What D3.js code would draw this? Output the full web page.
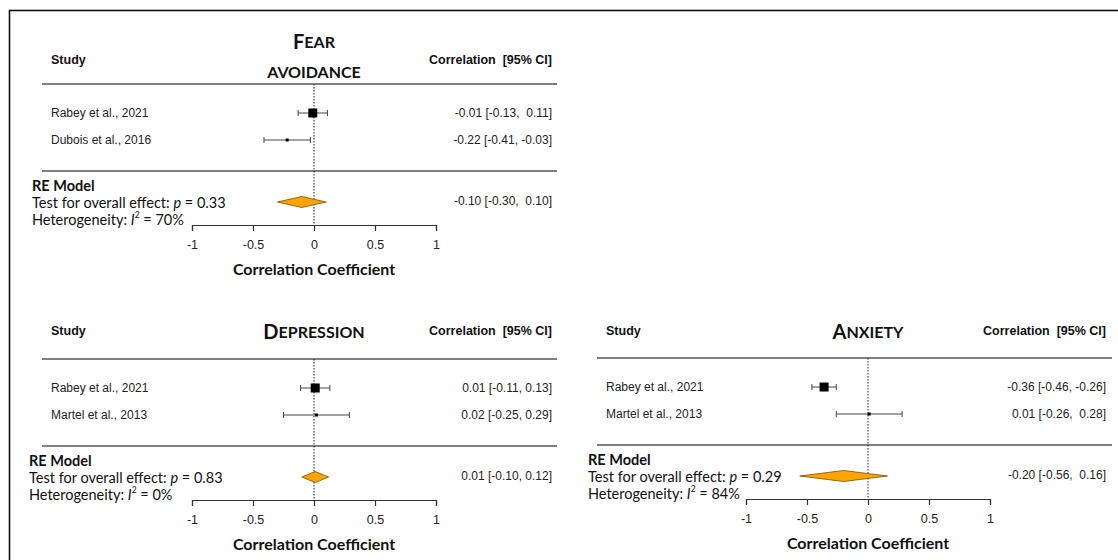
<!DOCTYPE html>
<html><head><meta charset="utf-8">
<script src="https://cdn.jsdelivr.net/npm/d3@7"></script>
<style>
body{margin:0;background:#fff}
text{white-space:pre}
</style></head><body>
<svg id="c" width="1118" height="560"></svg>
<script>
// ---------- data ----------
const titles = [["Fear", "Avoidance"], ["Depression"], ["Anxiety"]];
const studies = [
  ["Rabey et al., 2021", "Dubois et al., 2016"],
  ["Rabey et al., 2021", "Martel et al., 2013"],
  ["Rabey et al., 2021", "Martel et al., 2013"]
];
const estimates = [[-0.01, -0.22], [0.01, 0.02], [-0.36, 0.01]];
const lowers    = [[-0.13, -0.41], [-0.11, -0.25], [-0.46, -0.26]];
const uppers    = [[0.11, -0.03], [0.13, 0.29], [-0.26, 0.28]];
const weights   = [[81, 9], [81, 9], [81, 9]];
const summaryEst = [-0.10, 0.01, -0.20];
const summaryLo  = [-0.30, -0.10, -0.56];
const summaryHi  = [0.10, 0.12, 0.16];
const pValues = ["0.33", "0.83", "0.29"];
const i2Values = ["70%", "0%", "84%"];
const tickValues = [-1, -0.5, 0, 0.5, 1];
const axisTitle = "Correlation Coefficient";

// ---------- layout ----------
const layout = [
  {left: 42, right: 557, labelX: 51, reX: 32, valX: 552, zero: 314, headY: 60, titleY: [41, 71], rule1: 84},
  {left: 42, right: 557, labelX: 51, reX: 29, valX: 552, zero: 314, headY: 331, titleY: [331], rule1: 359},
  {left: 597, right: 1112, labelX: 606, reX: 588, valX: 1106, zero: 868, headY: 331, titleY: [331], rule1: 358}
];
const UNIT = 122;
const ARIAL = "'Liberation Sans', Arial, sans-serif";
const CAL = "Lato, 'Open Sans', sans-serif";

const svg = d3.select("#c");
svg.append("rect").attr("x", 9.5).attr("y", 10.5).attr("width", 1140).attr("height", 600)
  .attr("fill", "none").attr("stroke", "#111").attr("stroke-width", 1.6);

const f2 = v => (v < 0 ? "-" : "") + Math.abs(v).toFixed(2);
const sizeScale = d3.scaleSqrt().domain([0, 100]).range([0, 10]);

layout.forEach((L, p) => {
  const g = svg.append("g");
  const x = d3.scaleLinear().domain([-1, 1]).range([L.zero - UNIT, L.zero + UNIT]);
  const r1 = L.rule1;
  const rowY = [r1 + 29, r1 + 56];
  const rule2 = r1 + 87, reY = r1 + 101, testY = r1 + 118, hetY = r1 + 135, axisY = r1 + 141;

  // header
  g.append("text").attr("x", L.labelX).attr("y", L.headY).attr("dominant-baseline", "central")
    .attr("font-family", ARIAL).attr("font-weight", "bold").attr("font-size", 12.5).attr("fill", "#111").text("Study");
  g.append("text").attr("x", L.valX).attr("y", L.headY).attr("text-anchor", "end").attr("dominant-baseline", "central")
    .attr("font-family", ARIAL).attr("font-weight", "bold").attr("font-size", 12.5).attr("fill", "#111").text("Correlation  [95% CI]");
  titles[p].forEach((w, i) => {
    const t = g.append("text").attr("x", x(0)).attr("y", L.titleY[i]).attr("text-anchor", "middle")
      .attr("dominant-baseline", "central").attr("font-family", CAL).attr("font-weight", "bold").attr("fill", "#111");
    t.append("tspan").attr("font-size", i === 0 ? 20 : 16).text(w[0].toUpperCase());
    t.append("tspan").attr("font-size", 16).text(w.slice(1).toUpperCase());
  });

  // rules
  [r1, rule2].forEach(yy => g.append("line").attr("x1", L.left).attr("x2", L.right).attr("y1", yy).attr("y2", yy)
    .attr("stroke", "#555").attr("stroke-width", 1.3));

  // zero line
  g.append("line").attr("x1", x(0)).attr("x2", x(0)).attr("y1", r1).attr("y2", axisY)
    .attr("stroke", "#222").attr("stroke-width", 1).attr("stroke-dasharray", "1.5,1.5");

  // value formatting widths
  const colW = arr => d3.max(arr.map(f2), s => s.length);
  const wEst = colW(estimates[p].concat([summaryEst[p]]));
  const wLo = colW(lowers[p].concat([summaryLo[p]]));
  const wHi = colW(uppers[p].concat([summaryHi[p]]));
  const label = (e, l, h) => f2(e).padStart(wEst) + " [" + f2(l).padStart(wLo) + ", " + f2(h).padStart(wHi) + "]";

  // studies
  studies[p].forEach((s, i) => {
    const y = rowY[i];
    g.append("text").attr("x", L.labelX).attr("y", y).attr("dominant-baseline", "central")
      .attr("font-family", ARIAL).attr("font-size", 12).attr("fill", "#222").text(s);
    g.append("line").attr("x1", x(lowers[p][i])).attr("x2", x(uppers[p][i])).attr("y1", y).attr("y2", y)
      .attr("stroke", "#444").attr("stroke-width", 1);
    [lowers[p][i], uppers[p][i]].forEach(v => g.append("line").attr("x1", x(v)).attr("x2", x(v))
      .attr("y1", y - 3).attr("y2", y + 3).attr("stroke", "#444").attr("stroke-width", 1));
    const sz = sizeScale(weights[p][i]);
    g.append("rect").attr("x", x(estimates[p][i]) - sz / 2).attr("y", y - sz / 2).attr("width", sz).attr("height", sz)
      .attr("fill", "#000");
    g.append("text").attr("x", L.valX).attr("y", y).attr("text-anchor", "end").attr("dominant-baseline", "central")
      .attr("font-family", ARIAL).attr("font-size", 12).attr("fill", "#222")
      .text(label(estimates[p][i], lowers[p][i], uppers[p][i]));
  });

  // summary
  g.append("text").attr("x", L.reX).attr("y", reY).attr("dominant-baseline", "central")
    .attr("font-family", CAL).attr("font-weight", "bold").attr("font-size", 14.5).attr("fill", "#111").text("RE Model");
  const tt = g.append("text").attr("x", L.reX).attr("y", testY).attr("dominant-baseline", "central")
    .attr("font-family", CAL).attr("font-size", 14.5).attr("fill", "#111");
  tt.append("tspan").text("Test for overall effect: ");
  tt.append("tspan").attr("font-style", "italic").text("p");
  tt.append("tspan").text(" = " + pValues[p]);
  const ht = g.append("text").attr("x", L.reX).attr("y", hetY).attr("dominant-baseline", "central")
    .attr("font-family", CAL).attr("font-size", 14.5).attr("fill", "#111");
  ht.append("tspan").text("Heterogeneity: ");
  ht.append("tspan").attr("font-style", "italic").text("I");
  ht.append("tspan").attr("font-size", 8.5).attr("dy", -4).text("2");
  ht.append("tspan").attr("dy", 4).text(" = " + i2Values[p]);

  const dpts = [[x(summaryLo[p]), testY], [x(summaryEst[p]), testY - 5.5], [x(summaryHi[p]), testY], [x(summaryEst[p]), testY + 5.5]];
  g.append("polygon").attr("points", dpts.map(d => d.join(",")).join(" "))
    .attr("fill", "#FFA500").attr("stroke", "#7a4a00").attr("stroke-width", 0.8);
  g.append("text").attr("x", L.valX).attr("y", testY - 1).attr("text-anchor", "end").attr("dominant-baseline", "central")
    .attr("font-family", ARIAL).attr("font-size", 12).attr("fill", "#222")
    .text(label(summaryEst[p], summaryLo[p], summaryHi[p]));

  // axis
  const ax = g.append("g").attr("transform", `translate(0,${axisY})`)
    .call(d3.axisBottom(x).tickValues(tickValues).tickSize(6).tickSizeOuter(6).tickPadding(9).tickFormat(d => String(d)));
  ax.select(".domain").attr("stroke", "#333").attr("stroke-width", 1.2);
  ax.selectAll(".tick line").attr("stroke", "#333").attr("stroke-width", 1.2);
  ax.selectAll(".tick text").attr("font-family", ARIAL).attr("font-size", 12.5).attr("fill", "#222");
  g.append("text").attr("x", x(0)).attr("y", r1 + 184).attr("text-anchor", "middle").attr("dominant-baseline", "central")
    .attr("font-family", CAL).attr("font-weight", "bold").attr("font-size", 16).attr("fill", "#111").text(axisTitle);
});
</script>
</body></html>
